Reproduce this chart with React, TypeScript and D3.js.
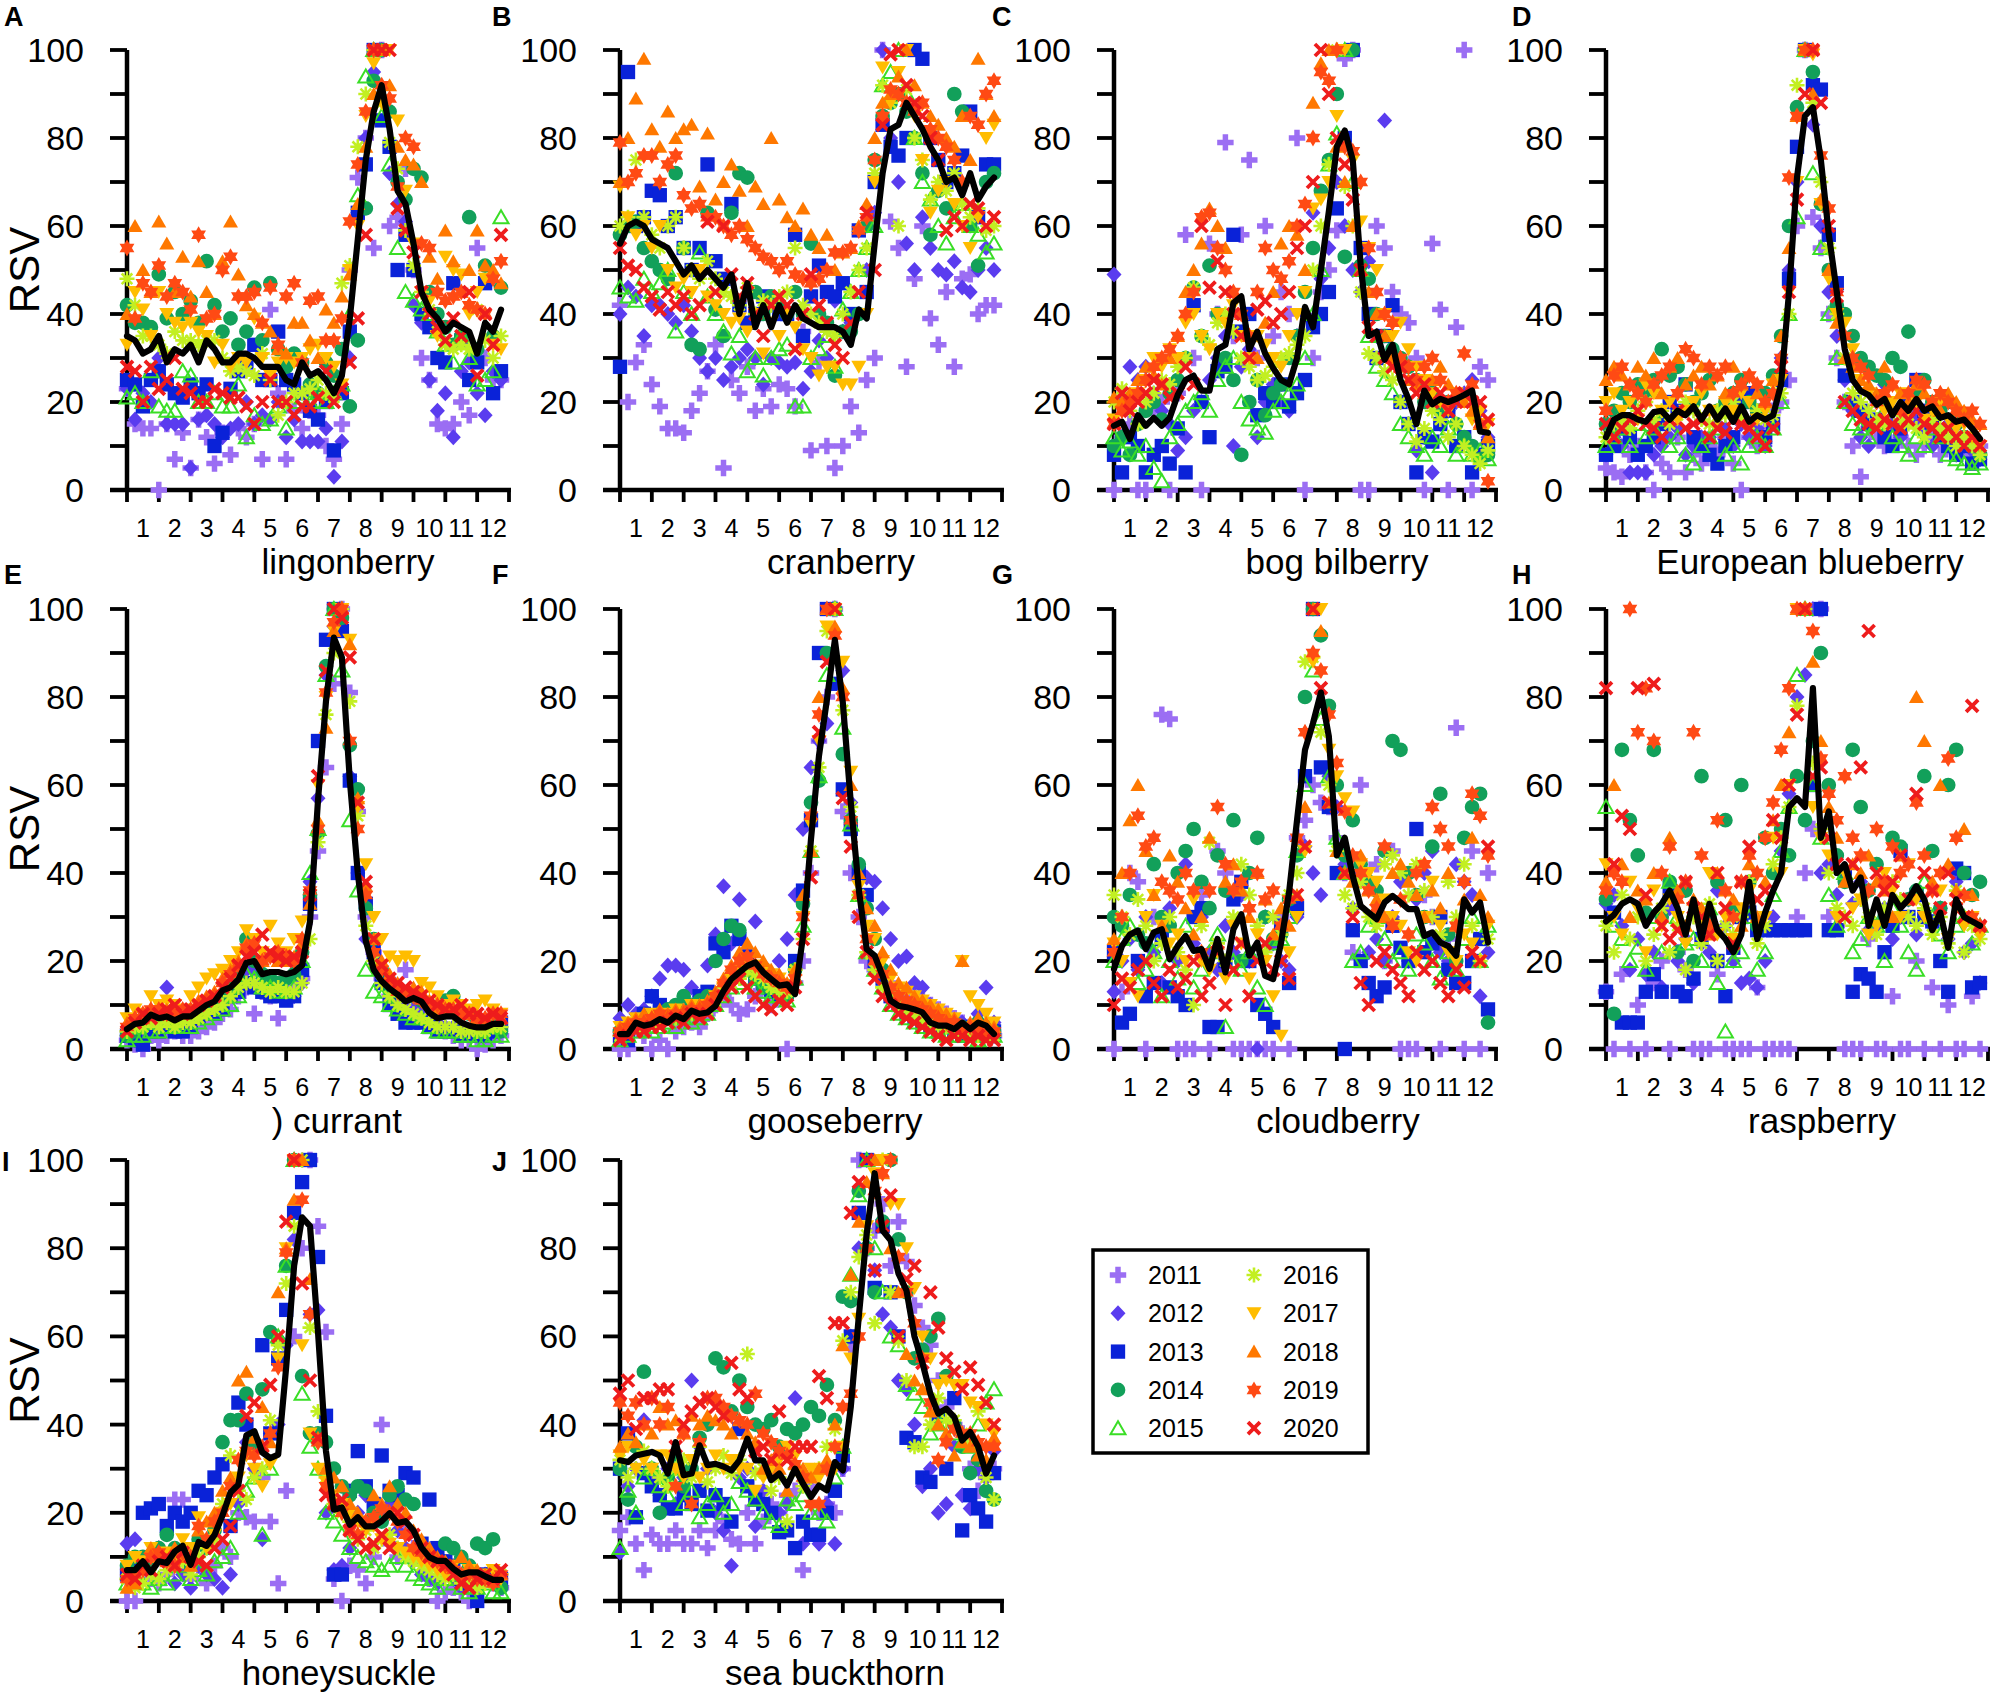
import React from "react";
import * as d3 from "d3";

const years = ["2011", "2012", "2013", "2014", "2015", "2016", "2017", "2018", "2019", "2020"];
const monthLabels = ["1", "2", "3", "4", "5", "6", "7", "8", "9", "10", "11", "12"];
const yTickValues = [0, 10, 20, 30, 40, 50, 60, 70, 80, 90, 100];
const yLabelValues = [0, 20, 40, 60, 80, 100];

// ---------- A lingonberry ----------
const lingonberryMean = [35,34,31,32,35,29,32,31,33,29,34,32,29,29,31,31,30,28,28,28,25,24,29,26,27,25,22,26,39,57,75,86,92,82,68,65,56,45,41,39,36,38,37,36,31,38,36,41];
const lingonberryYears = [
  [23,15,14,14,0,15,7,13,5,16,12,6,13,8,14,12,15,7,41,22,7,18,14,18,17,10,7,15,50,71,80,55,100,60,62,73,50,30,25,15,14,15,20,17,55,30,25,25],
  [23,16,22,20,30,15,15,15,5,16,17,15,12,14,15,20,15,17,16,20,12,16,11,11,11,14,3,11,30,63,80,95,100,72,65,61,42,38,25,18,22,12,27,29,22,17,27,25],
  [25,24,19,25,27,24,22,21,24,22,24,10,13,23,27,29,33,25,25,36,25,24,22,18,16,20,9,22,36,63,74,100,84,78,50,58,50,40,37,30,29,47,34,25,29,47,22,27],
  [42,38,38,37,49,39,45,40,43,38,52,42,36,39,33,36,46,34,47,32,28,31,29,24,22,29,26,32,19,34,64,93,100,86,70,66,73,71,45,40,37,33,35,62,32,51,35,46],
  [21,22,20,27,19,18,18,27,26,20,20,22,19,19,24,12,17,15,16,19,14,20,21,20,22,20,22,24,40,67,94,100,85,74,55,45,43,41,40,36,33,29,35,30,24,25,27,62],
  [48,42,35,35,33,31,36,34,34,33,34,34,30,27,28,27,26,31,25,17,20,22,22,23,25,22,21,47,51,78,90,100,88,79,73,59,51,45,41,36,33,32,33,32,41,34,30,35],
  [33,45,41,35,45,40,38,37,38,36,35,29,33,28,30,29,39,30,26,29,30,29,30,32,33,30,28,24,50,60,85,97,88,100,84,68,56,45,43,35,53,50,49,40,45,48,33,32],
  [40,60,50,45,61,56,45,53,44,52,45,40,52,61,49,42,40,38,36,32,31,38,38,34,30,41,38,44,49,65,78,90,100,92,78,75,74,70,53,48,59,52,45,50,59,51,50,47],
  [55,39,47,45,51,44,47,45,41,58,39,40,50,53,44,44,45,38,46,33,44,47,29,43,44,34,34,39,61,74,86,100,92,89,69,80,78,56,55,45,43,44,45,42,41,40,48,52],
  [28,27,20,28,23,25,30,23,22,20,20,23,22,21,21,19,15,20,25,20,20,17,19,19,21,27,20,23,29,39,58,100,100,100,64,59,54,45,40,37,34,39,35,45,26,40,33,58],
];

// ---------- B cranberry ----------
const cranberryMean = [56,60,61,60,57,56,55,52,49,51,48,50,48,46,49,40,47,37,42,37,42,38,42,39,38,37,37,37,36,33,41,39,56,72,82,83,88,85,82,78,75,70,71,67,72,66,69,71];
const cranberryYears = [
  [42,20,29,33,24,19,14,14,13,18,22,27,33,5,25,22,28,18,23,19,24,23,19,36,9,29,10,5,10,19,13,25,30,100,61,55,28,48,60,39,33,45,28,48,49,40,42,42],
  [40,46,44,35,42,42,40,38,42,36,30,27,30,25,28,30,32,30,24,30,29,28,29,23,27,34,30,43,36,38,40,50,63,100,80,70,56,50,62,55,50,49,52,46,45,50,55,50],
  [28,95,60,62,68,67,60,62,55,50,55,74,52,48,65,42,38,40,44,42,40,40,58,35,44,51,45,44,47,40,59,45,70,83,78,76,80,100,98,80,75,70,72,76,86,62,74,74],
  [58,60,61,55,52,50,48,72,55,33,32,63,41,35,63,72,71,45,40,44,42,40,45,40,56,40,38,26,36,36,40,60,75,85,88,90,86,80,72,58,68,64,90,86,60,51,70,72],
  [46,44,43,48,45,47,50,36,45,40,54,44,40,36,31,35,27,30,26,30,32,33,19,19,30,32,35,28,41,45,50,55,60,92,95,100,90,80,70,66,60,56,62,65,60,58,54,56],
  [60,62,75,62,58,55,60,62,55,50,48,52,48,45,44,42,46,40,43,42,44,45,55,42,40,38,36,35,40,45,50,55,72,92,88,60,91,80,75,66,70,68,72,65,62,64,59,60],
  [69,62,58,60,55,60,50,46,48,45,50,44,42,40,38,39,36,40,31,38,35,40,37,32,30,26,28,28,24,24,28,40,70,96,88,95,100,85,75,63,68,70,65,60,55,62,80,83],
  [70,80,89,98,82,78,86,80,82,83,69,81,66,70,74,68,60,69,65,80,66,62,60,64,58,55,58,50,54,55,60,65,80,88,90,94,100,92,88,85,83,80,78,85,75,98,90,85],
  [79,70,72,76,76,70,74,76,67,64,65,62,62,60,58,60,57,55,53,52,50,52,49,48,47,48,50,54,54,55,59,62,75,85,91,90,88,86,88,82,80,78,75,70,85,83,90,93],
  [55,51,50,46,44,41,45,42,44,40,42,61,45,60,49,44,47,40,35,42,44,42,32,40,49,42,38,33,30,38,45,63,50,83,99,100,92,88,85,80,75,59,62,60,65,64,60,62],
];

// ---------- C bog bilberry ----------
const bogBilberryMean = [14.6,15.5,11.6,17,14.6,16.4,14.6,16.4,21.6,25,26,22.6,22.6,32,33,42.5,44,32,36,31,27.7,25,24,30,41.6,37,50,63.4,78,81.7,75,51,35,36,29.6,33,25,20.7,15,22.6,19.5,20.7,20,20.7,21.6,22.6,13.3,13];
const bogBilberryYears = [
  [0,12,15,0,0,18,20,0,22,58,30,0,56,40,79,35,58,75,30,60,35,45,40,80,0,30,45,50,59,98,100,0,0,60,55,45,40,38,30,0,56,41,0,37,100,0,28,25],
  [49,20,28,25,28,22,18,15,9,12,18,20,25,30,35,10,28,32,12,20,24,20,18,35,40,63,48,55,70,60,50,45,52,35,84,30,20,15,9,12,4,15,18,20,22,25,18,12],
  [8,4,12,10,4,8,10,6,14,4,42,20,12,27,28,58,36,40,17,22,20,24,19,22,25,37,40,45,64,80,100,55,40,30,35,42,20,15,4,12,11,15,18,10,12,4,8,10],
  [10,12,8,15,18,20,16,22,25,30,46,35,51,40,30,25,8,20,25,17,22,24,30,35,45,55,68,75,90,53,100,51,48,40,35,32,30,28,25,20,22,18,20,15,12,10,7,8],
  [12,9,11,8,10,5,2,12,15,18,20,22,18,25,28,30,20,16,14,13,18,20,22,24,30,40,50,74,81,100,70,50,35,28,25,22,15,12,10,8,12,10,14,8,10,8,9,7],
  [20,23,18,15,20,22,25,24,28,30,46,35,33,38,40,36,30,28,25,26,28,30,31,33,35,50,60,74,100,69,60,45,31,30,27,25,20,15,11,14,18,16,12,15,10,8,6,9],
  [16,18,20,22,25,30,28,32,30,38,40,35,32,40,38,42,35,30,35,33,30,28,35,40,45,64,66,70,85,100,75,61,55,50,40,35,38,32,28,25,22,20,18,22,20,16,18,15],
  [21,20,22,25,28,26,24,30,35,45,50,56,64,60,55,45,40,35,30,38,45,56,60,58,50,88,97,100,78,70,60,50,45,40,35,30,28,25,24,22,25,28,24,22,20,18,15,12],
  [15,18,20,22,25,28,30,32,35,40,45,62,63,55,50,45,40,35,45,55,50,48,52,60,65,80,95,93,100,78,77,70,55,45,40,38,30,28,25,28,30,25,20,22,31,24,15,2],
  [15,22,18,20,22,25,24,21,22,28,24,60,46,52,45,40,35,30,41,43,38,40,45,55,60,70,100,90,80,74,66,50,37,35,30,28,28,25,22,24,20,22,18,20,22,20,20,16],
];

// ---------- D European blueberry ----------
const blueberryMean = [12,16,17,17,16,15.5,17.7,18,16,18,17,19,16,19,16,18.5,15.5,19,15.5,17,16,17,24,45,71,85,87,75,58,45,32,25,22.5,21.6,19.4,20.7,17,20,18,20.7,18,19,16.4,17,15.5,16,14,11.6];
const blueberryYears = [
  [5,4,3,8,10,4,0,6,4,12,4,8,6,10,8,12,6,0,12,10,14,18,20,25,60,100,62,55,40,30,20,10,3,14,12,10,15,12,10,8,10,12,8,10,12,9,8,10],
  [8,12,10,4,4,4,8,10,12,14,8,10,12,12,15,14,10,15,12,14,10,15,30,50,70,100,83,60,45,35,25,18,12,10,20,24,15,12,18,16,14,10,12,15,8,10,9,7],
  [8,10,14,12,8,10,12,15,20,18,24,12,10,8,6,10,12,20,22,18,12,15,25,48,78,100,92,91,58,47,26,20,18,15,16,12,10,14,20,25,18,15,12,10,8,10,6,7],
  [15,18,22,20,24,22,25,32,26,28,24,20,22,25,18,20,22,25,20,18,22,26,35,60,87,100,95,65,50,42,40,35,30,28,26,25,30,28,36,22,25,20,18,20,15,12,10,8],
  [10,12,14,10,15,12,14,16,10,12,8,6,10,12,14,8,10,6,10,12,10,14,20,40,62,100,72,55,40,30,20,15,14,12,15,18,12,10,8,12,10,14,12,8,7,6,5,6],
  [12,15,16,14,18,20,16,18,15,17,20,18,16,15,18,17,20,16,15,18,16,17,22,40,92,100,88,70,55,40,30,22,20,18,16,15,18,16,15,14,12,16,14,12,10,12,10,8],
  [20,22,18,20,16,24,22,18,20,16,18,20,22,18,16,20,18,22,20,16,18,24,25,45,70,100,99,65,48,40,38,32,25,22,20,18,20,22,18,20,16,18,20,16,14,15,12,10],
  [25,28,26,24,28,26,30,22,28,30,24,26,28,24,26,22,28,24,26,22,20,25,35,55,85,100,90,66,50,38,30,28,25,24,22,28,24,22,20,24,22,20,18,22,20,18,16,15],
  [18,26,28,24,22,20,24,26,28,22,32,30,24,28,26,28,22,24,26,24,20,22,30,71,85,100,100,76,64,45,35,30,28,26,20,22,24,18,22,25,24,20,22,20,18,16,18,15],
  [15,12,14,16,18,15,14,12,16,18,14,15,16,12,14,13,16,15,14,12,10,14,28,45,66,90,100,88,60,44,20,18,16,15,14,16,15,14,16,18,15,14,12,14,12,10,12,10],
];

// ---------- E currant ----------
const currantMean = [4.5,5.7,6,7.8,7,7.4,6.5,7.4,7.4,8.7,10,10.8,13.3,14,15.8,19.6,20,17,17.5,17.5,17,17.5,19,29,56.5,79,93.5,89,61,40,24.6,18,15.4,13.7,12.4,10.8,11.6,10.8,8.2,7,7.4,7.4,6,5.3,4.9,4.9,5.7,5.7];
const currantYears = [
  [2,1,0,3,2,3,4,3,3,4,5,6,8,9,12,14,8,13,12,7,15,14,16,30,45,64,83,100,81,54,30,22,16,12,11,18,12,10,6,5,4,3,2,2,0,1,2,3],
  [3,2,4,5,6,14,8,6,7,9,10,10,12,14,16,18,18,16,14,13,12,12,15,38,57,85,96,100,62,40,25,19,17,16,14,11,9,8,7,6,5,5,4,4,3,3,4,5],
  [3,2,1,4,4,5,4,4,5,7,8,8,9,12,13,15,14,13,12,12,11,12,18,33,70,93,100,95,61,40,33,22,15,10,8,6,6,6,5,4,4,4,3,3,3,3,4,6],
  [3,4,5,6,6,7,6,7,7,8,9,10,12,14,16,25,20,17,16,15,16,17,22,35,49,87,100,98,69,59,32,25,18,14,13,12,12,11,10,9,11,12,9,8,6,5,5,4],
  [2,3,3,4,4,5,5,5,5,6,7,8,9,10,12,17,16,14,14,13,13,14,20,40,50,85,100,86,52,36,18,13,12,10,9,8,7,7,5,4,4,4,3,3,2,2,3,3],
  [4,5,5,6,5,6,5,6,6,7,8,9,10,12,14,15,15,14,13,14,13,13,15,25,47,76,90,100,79,53,28,20,15,12,10,9,8,7,6,5,5,5,4,4,4,4,5,5],
  [7,9,8,12,10,11,10,9,12,14,16,17,18,20,22,27,25,22,28,24,22,25,29,35,60,80,95,100,93,55,42,30,25,21,20,21,20,15,14,12,10,11,10,9,10,11,9,8],
  [6,7,7,8,8,9,8,8,9,11,12,13,16,18,20,24,24,20,21,20,20,21,24,33,52,73,95,100,92,57,37,25,20,17,15,13,14,13,11,9,9,9,8,8,7,7,8,7],
  [5,7,8,9,9,8,8,9,9,10,11,12,15,17,19,23,24,20,21,22,21,20,25,36,50,81,97,100,70,50,35,22,18,15,13,12,12,11,10,10,9,9,8,8,7,7,8,8],
  [4,6,8,7,8,9,10,8,9,10,11,12,14,16,19,21,22,26,22,21,20,21,22,35,62,86,100,98,89,56,38,25,19,16,15,14,13,12,11,10,9,9,10,8,8,7,8,7],
];

// ---------- F gooseberry ----------
const gooseberryMean = [3.4,3.4,6,5.3,5.7,6.8,6,7.6,6.8,8.7,8,8.3,9.8,13.2,15.9,17.4,18.9,19.7,17.4,15.9,14.4,14.7,12.5,25.7,47.7,66.6,79.4,93,78.7,56,36.3,22.7,21.2,16.6,11,9.8,9.5,9,8.3,6,5.3,5.3,4.5,6,4.5,6,5.3,3.4];
const gooseberryYears = [
  [0,0,5,3,0,2,0,4,5,6,5,8,10,12,10,8,9,12,14,10,12,0,15,20,40,70,80,100,54,40,30,20,18,16,15,12,10,12,11,10,9,8,7,6,5,5,4,3],
  [7,10,8,9,12,16,19,19,18,14,12,19,26,37,24,34,22,29,19,14,20,25,35,50,64,70,74,100,86,56,40,39,38,32,25,20,21,15,14,10,8,7,5,6,5,8,14,6],
  [3,2,5,8,12,10,8,9,8,10,12,13,24,22,28,25,21,16,15,13,12,14,20,36,52,90,100,83,59,50,40,35,20,16,12,10,8,7,6,5,4,5,4,3,5,4,3,4],
  [4,5,6,7,6,8,9,10,12,10,11,12,20,25,28,27,18,16,14,15,13,12,18,33,56,61,90,100,67,52,42,32,25,18,12,10,9,8,7,6,6,5,6,5,4,6,5,4],
  [2,3,4,5,4,5,6,5,7,6,7,8,10,12,14,15,16,14,13,12,12,11,16,28,45,62,85,100,73,51,35,22,18,14,10,8,7,6,5,4,4,3,3,4,3,2,3,3],
  [3,4,5,5,6,6,7,7,8,8,9,9,11,14,15,16,18,17,16,14,13,13,18,25,45,64,95,100,77,55,35,22,18,14,12,10,9,8,7,6,5,5,4,4,4,3,3,3],
  [5,6,7,6,8,7,8,9,8,10,9,10,12,14,16,18,20,19,18,17,16,14,17,30,51,70,96,100,88,63,37,28,25,20,16,14,13,12,11,10,9,8,7,20,12,10,8,6],
  [5,6,7,8,7,9,8,9,9,10,10,11,13,16,19,22,24,22,20,18,17,15,18,35,45,80,100,96,82,60,40,32,28,22,18,15,14,12,11,10,9,8,7,20,6,7,6,5],
  [4,5,6,6,7,8,7,8,8,9,9,10,12,15,18,20,21,19,17,16,15,14,16,30,53,76,100,94,80,52,35,25,20,17,14,12,11,10,9,8,7,6,6,5,5,4,4,4],
  [2,3,4,4,5,5,6,7,6,8,7,8,10,12,14,16,14,12,10,9,11,10,14,25,39,72,88,100,57,46,30,22,16,12,10,8,7,6,5,4,3,2,3,3,2,3,2,2],
];

// ---------- G cloudberry ----------
const cloudberryMean = [18.2,23.4,26,26.9,22.7,26.5,27.2,20.4,23.4,25.7,22.3,22.7,18.2,25,17.4,27.2,30.6,21.2,24.2,16.6,15.9,24.2,35.6,52,68,74,81,71,44,48,39.3,32.5,31,29.5,33.3,34.8,33.3,31.8,31.8,25.7,26.5,24.2,23.4,21.2,34,31,33.3,24.2];
const cloudberryYears = [
  [0,13,40,38,0,30,76,75,0,0,0,35,0,45,40,0,0,0,0,0,0,30,0,48,52,60,56,55,48,40,22,60,38,42,20,45,0,0,0,35,30,0,25,73,0,45,0,40],
  [13,20,25,18,30,22,15,32,20,42,24,30,22,18,28,22,35,20,0,30,24,20,18,30,46,40,35,62,55,42,32,40,22,25,20,30,38,20,34,40,45,22,20,42,38,35,12,22],
  [22,6,8,20,12,15,25,14,12,10,30,32,5,5,20,34,38,20,10,8,5,28,15,32,62,100,64,55,40,0,27,20,15,12,14,28,23,20,50,22,24,30,18,15,15,20,25,9],
  [30,28,35,26,24,42,30,28,40,45,50,38,32,44,36,52,20,40,48,30,25,26,34,44,80,100,94,78,60,44,52,42,38,36,45,70,68,40,35,30,46,58,26,20,48,55,58,6],
  [20,25,28,15,18,22,12,20,16,28,14,18,22,26,5,20,18,22,14,10,24,25,30,45,60,86,75,62,48,40,20,22,28,30,25,20,22,18,26,24,20,16,22,18,25,30,20,28],
  [35,30,26,34,28,20,24,30,22,18,10,28,47,24,20,30,42,35,28,22,30,26,35,40,88,89,72,60,45,35,32,38,30,28,42,44,40,35,42,36,30,26,38,30,42,28,20,25],
  [24,20,15,12,30,35,28,24,26,20,34,20,18,22,16,28,24,16,26,20,12,3,22,30,45,88,100,68,62,57,54,42,40,38,34,30,28,22,20,30,38,28,22,20,26,24,20,28],
  [25,40,52,60,45,35,28,44,38,32,26,30,48,24,38,42,36,30,40,34,26,32,28,35,55,100,95,56,45,40,38,44,36,34,30,40,42,38,35,30,36,32,40,28,34,48,35,30],
  [22,30,40,53,46,48,38,36,34,40,36,22,36,55,42,36,38,32,40,34,36,28,34,48,72,90,86,76,65,54,44,40,36,32,46,28,34,26,40,42,55,50,46,28,38,58,53,44],
  [10,16,14,18,20,15,12,18,14,16,20,12,15,22,10,18,24,12,20,24,18,20,16,35,46,100,82,56,55,40,30,15,10,20,22,18,15,12,22,18,20,15,12,18,14,22,20,46],
];

// ---------- H raspberry ----------
const raspberryMean = [29,30.5,33,34,33,28,31,33,36,32,26,34,25,33,27,25,22,26,38,25,31,36,40,55,57,55,82,48,54,40,42,36,39,28,34,28,35,32,34,37,34,27,31,23,34,30,29,28];
const raspberryYears = [
  [13,0,17,0,10,0,15,20,0,22,18,0,0,0,17,0,0,0,0,14,0,0,0,0,30,40,50,100,30,28,0,0,0,25,0,0,12,0,0,20,0,14,0,10,0,0,12,0],
  [33,35,28,18,25,17,22,14,32,20,25,15,24,22,36,28,20,15,16,14,20,30,45,58,80,85,100,40,42,35,40,33,38,27,28,32,25,30,34,26,30,28,32,25,38,22,24,15],
  [13,31,6,6,6,13,17,13,36,13,12,16,25,27,20,12,23,30,31,27,27,27,27,27,27,27,60,100,27,27,40,13,17,16,13,22,28,45,30,35,30,29,20,13,41,40,14,15],
  [34,8,68,52,44,31,68,30,38,22,36,20,62,30,38,52,32,60,38,28,48,40,50,44,62,52,70,90,60,44,38,68,55,36,42,30,48,46,34,36,62,45,32,60,68,40,35,38],
  [55,28,25,20,23,18,30,22,38,30,24,25,20,32,15,4,20,22,30,18,22,35,45,55,85,100,60,48,35,28,40,22,25,30,28,20,32,28,22,18,38,30,26,22,28,30,24,28],
  [28,22,35,25,30,20,26,32,22,28,18,30,24,33,20,28,26,30,38,24,28,42,48,55,78,100,65,50,40,32,30,28,34,30,26,32,38,34,30,28,32,26,30,24,36,22,28,25],
  [42,30,26,38,32,22,36,28,34,30,24,32,28,40,26,30,25,32,36,28,30,48,40,60,100,100,55,48,44,30,40,32,34,26,28,40,36,30,42,34,30,28,36,25,32,28,30,26],
  [38,60,42,30,36,34,40,30,48,36,28,34,32,26,40,36,34,28,42,30,38,52,60,72,100,100,88,70,55,48,38,42,40,44,38,36,30,44,34,80,70,38,60,42,36,50,35,28],
  [36,40,38,100,72,82,70,40,46,34,38,72,44,28,52,36,30,38,44,40,48,56,68,82,100,100,95,66,58,52,62,48,44,36,50,38,46,40,42,56,44,36,40,66,48,35,30,28],
  [82,42,53,50,82,35,83,28,25,27,38,32,30,26,40,32,24,38,46,34,36,52,48,60,76,100,62,64,48,42,30,42,64,95,40,36,38,44,34,58,40,36,32,40,34,30,78,28],
];

// ---------- I honeysuckle ----------
const honeysuckleMean = [7,7,9,6.5,9,8.6,11.2,12.5,8.2,13.4,12.5,15,19.4,24.6,26.4,37.6,38.5,33.7,32.4,33.2,53,76,87,85,61,34,20.7,21.2,17.3,19,16.9,16.9,18.1,19.9,17.7,18.1,16,12.1,9.9,9.1,9.1,7.3,6,6.5,6.5,5.6,4.8,4.8];
const honeysuckleYears = [
  [0,0,8,5,4,6,23,23,5,8,4,8,12,10,20,19,18,28,18,4,25,60,80,100,85,61,5,0,8,7,4,10,40,13,10,16,12,10,5,0,2,3,2,0,3,5,4,3],
  [13,14,8,10,12,9,4,6,3,8,6,5,3,6,22,36,30,14,38,40,58,82,100,65,66,20,7,8,12,20,24,18,20,22,16,12,9,6,5,4,6,5,3,4,5,6,4,5],
  [6,8,20,21,22,17,20,18,20,25,24,28,31,17,45,40,35,58,38,55,66,88,95,100,78,42,6,6,25,34,26,22,33,25,24,29,28,13,23,12,9,8,5,4,0,6,6,5],
  [8,10,10,9,12,15,12,10,8,14,12,16,36,41,41,47,36,48,61,59,76,100,51,38,38,36,30,26,24,26,25,20,18,24,26,23,22,12,10,9,13,12,10,8,13,12,14,3],
  [4,5,4,3,5,4,6,8,5,7,6,9,10,12,20,25,28,15,30,60,76,100,47,35,30,20,18,15,12,10,9,8,7,8,10,8,6,5,4,3,5,4,3,2,3,4,2,2],
  [5,3,4,6,5,7,8,9,6,10,12,14,22,33,25,23,28,30,41,58,72,85,100,62,43,28,22,20,18,14,16,12,14,15,12,10,9,8,7,6,5,6,4,5,3,4,5,6],
  [8,10,9,12,10,11,10,14,12,19,12,15,20,22,28,33,30,26,31,55,80,100,58,38,30,27,24,22,20,18,16,17,14,13,12,11,10,9,8,7,6,8,6,7,5,6,7,5],
  [3,4,8,12,10,9,12,10,8,16,18,20,25,28,50,52,37,44,36,70,80,91,100,73,37,30,28,26,22,20,18,24,22,26,22,20,16,14,12,10,9,8,10,8,7,6,5,6],
  [5,6,7,10,11,9,8,11,10,17,14,18,20,26,32,34,33,35,38,53,79,100,91,65,36,26,22,20,16,15,18,19,21,20,18,15,12,11,10,9,8,7,6,6,5,5,4,6],
  [6,5,8,7,9,10,8,11,10,9,8,12,14,17,25,42,45,35,49,60,86,100,72,50,37,24,22,23,16,14,12,13,15,12,20,18,15,12,10,9,8,6,4,3,5,6,5,7],
];

// ---------- J sea buckthorn ----------
const seaBuckthornMean = [31.9,31.5,33,33.4,33.8,33,28.9,36,28.5,28.9,35.3,30.8,31.1,30.5,29.6,31.9,36.8,31.9,31.9,27.4,28.9,26.2,30,26.6,23.6,26.2,25.1,31.5,29.6,44,64.4,83.3,97,84,81.8,74.2,70.4,60,54,47,42.5,43.6,41.7,36.4,38.3,35,28.9,33];
const seaBuckthornYears = [
  [16,19,13,7,15,13,13,16,13,13,16,12,16,18,14,13,20,13,18,22,20,24,25,7,26,20,22,20,30,58,100,80,84,90,76,86,77,67,62,58,50,44,40,38,30,25,28,30],
  [11,26,30,41,28,24,30,22,28,50,35,30,20,16,8,28,30,17,25,30,20,22,46,13,28,13,22,13,30,60,80,100,75,65,62,50,48,40,26,30,20,22,35,24,21,30,28,34],
  [30,38,19,29,26,24,21,21,24,22,25,20.5,24,22,18,39,26,23,22,20,15.6,16,12,18,15,15,20,25,33,60,88,100,71,85,70,60,37,36,28,27,42,30,46,16,24,21,18,29],
  [30,23,35,52,30,20,28,32,26,30,37,40,55,53,43,50,44,40,39,41,35,39,38,40,44,42,49,41,69,68,93,80,70,86,100,82,70,55,57,60,64,51,40,35,29,32,25,23],
  [12,25,20,28,30,26,24,28,22,25,19,22,24,20,22,27,25,23,20,18,17,23,22,24,20,20,18,28,35,74,92,100,80,70,60,58,49,47,44,38,40,42,38,36,35,40,45,48],
  [32,28,30,34,30,28,26,30,32,28,35,27,30,33,29,32,56,29,30,25,28,18,30,26,28,30,35,39,59,70,78,83,63,100,70,59,50,35,35,40,46,41,41,38,36,43,28,23],
  [33,35,30,32,30,33,33,30,28,32,28,30,33,30,32,30,30,25,28,30,32,35,33,27,30,28,30,30,35,55,64,85,97,100,90,90,80,71,60,55,49,50,49,49,45,44,40,38],
  [35,38,36,40,38,44,40,41,38,42,40,42,41,40,38,41,38,36,30,32,30,25,31,30,28,30,32,40,58,74,86,95,100,97,80,70,56,50,48,43,40,38,33,36,35,33,32,37],
  [45,42,45,40,46,40,44,26,38,22,36,46,46,44,42,41,40,47,38,36,34,33,31,28,22,22,30,35,44,47,60,80,93,97,100,78,70,63,55,45,32,36,39,38,38,36,35,35],
  [47,50,39,46,46,48,48,35,40,43,45,46,44,42,54,48,46,34,35,32,43,32,35,35,35,51,46,63,63,88,95,100,75,85,92,60,73,76,54,70,62,55,52,48,53,49,45,40],
];

// ---------- layout / style ----------
const FONT = "'Liberation Sans', Arial, Helvetica, sans-serif";
const COL_X = [127, 620, 1114, 1606];
const ROW_TOP = [50, 609, 1160];
const ROW_BOT = [490, 1049, 1601];
const PLOT_W = 382;

type MarkerStyle = { d: string; fill: string; stroke: string; sw: number };

const markerStyles: MarkerStyle[] = [
  { d: d3.symbol(d3.symbolCross, 150)() as string, fill: "#9b6ef3", stroke: "none", sw: 0 },
  { d: "M0,-8L7.5,0L0,8L-7.5,0Z", fill: "#5a3cef", stroke: "none", sw: 0 },
  { d: d3.symbol(d3.symbolSquare, 205)() as string, fill: "#0a22d8", stroke: "none", sw: 0 },
  { d: d3.symbol(d3.symbolCircle, 170)() as string, fill: "#12a05a", stroke: "none", sw: 0 },
  { d: "M0,-7L7.5,6L-7.5,6Z", fill: "none", stroke: "#3ade26", sw: 2 },
  { d: "M-7.5,0H7.5M0,-7.5V7.5M-5.3,-5.3L5.3,5.3M-5.3,5.3L5.3,-5.3", fill: "none", stroke: "#c2ef22", sw: 2.6 },
  { d: "M-7.5,-6L7.5,-6L0,7Z", fill: "#ffbd00", stroke: "none", sw: 0 },
  { d: "M0,-7L7.5,6L-7.5,6Z", fill: "#ff7800", stroke: "none", sw: 0 },
  { d: "M0,-8.5L7.4,4.25L-7.4,4.25ZM0,8.5L-7.4,-4.25L7.4,-4.25Z", fill: "#ff4a14", stroke: "none", sw: 0 },
  { d: "M-6,-6L6,6M-6,6L6,-6", fill: "none", stroke: "#ee1c1c", sw: 3.8 },
];

type PanelDef = {
  letter: string;
  name: string;
  mean: number[];
  series: number[][];
  col: number;
  row: number;
  labelX: number;
  anchor?: "middle" | "end";
  clipLeft?: number;
  rsv?: boolean;
};

const panels: PanelDef[] = [
  { letter: "A", name: "lingonberry", mean: lingonberryMean, series: lingonberryYears, col: 0, row: 0, labelX: 348, rsv: true },
  { letter: "B", name: "cranberry", mean: cranberryMean, series: cranberryYears, col: 1, row: 0, labelX: 841 },
  { letter: "C", name: "bog bilberry", mean: bogBilberryMean, series: bogBilberryYears, col: 2, row: 0, labelX: 1337 },
  { letter: "D", name: "European blueberry", mean: blueberryMean, series: blueberryYears, col: 3, row: 0, labelX: 1810 },
  { letter: "E", name: "(black) currant", mean: currantMean, series: currantYears, col: 0, row: 1, labelX: 402, anchor: "end", clipLeft: 272, rsv: true },
  { letter: "F", name: "gooseberry", mean: gooseberryMean, series: gooseberryYears, col: 1, row: 1, labelX: 835 },
  { letter: "G", name: "cloudberry", mean: cloudberryMean, series: cloudberryYears, col: 2, row: 1, labelX: 1338 },
  { letter: "H", name: "raspberry", mean: raspberryMean, series: raspberryYears, col: 3, row: 1, labelX: 1822 },
  { letter: "I", name: "honeysuckle", mean: honeysuckleMean, series: honeysuckleYears, col: 0, row: 2, labelX: 339, rsv: true },
  { letter: "J", name: "sea buckthorn", mean: seaBuckthornMean, series: seaBuckthornYears, col: 1, row: 2, labelX: 835 },
];

const LETTER_X = [4, 492, 992, 1512];
const LETTER_Y = [26, 584, 1171];

function Panel({ p }: { p: PanelDef }) {
  const x0 = COL_X[p.col];
  const yTop = ROW_TOP[p.row];
  const yBot = ROW_BOT[p.row];
  const xs = d3.scaleLinear().domain([0, 12]).range([x0, x0 + PLOT_W]);
  const ys = d3.scaleLinear().domain([0, 100]).range([yBot, yTop]);
  const line = d3
    .line<number>()
    .x((_, i) => xs(i / 4))
    .y((d) => ys(d));
  const clipId = `clip-${p.letter}`;
  const letterX = p.letter === "I" ? 2 : LETTER_X[p.col];
  return (
    <g>
      {/* axes */}
      <line x1={x0} x2={x0} y1={yTop} y2={yBot} stroke="#000" strokeWidth={4.5} />
      <line x1={x0 - 17} x2={x0 + PLOT_W + 2} y1={yBot} y2={yBot} stroke="#000" strokeWidth={4.5} />
      {yTickValues.map((v) => (
        <line key={`yt${v}`} x1={x0 - 17} x2={x0} y1={ys(v)} y2={ys(v)} stroke="#000" strokeWidth={3.8} />
      ))}
      {d3.range(13).map((m) => (
        <line key={`xt${m}`} x1={xs(m)} x2={xs(m)} y1={yBot} y2={yBot + 12} stroke="#000" strokeWidth={3.8} />
      ))}
      {yLabelValues.map((v) => (
        <text key={`yl${v}`} x={x0 - 43} y={ys(v) + 12} fontSize={34} textAnchor="end" fontFamily={FONT} fill="#000">
          {v}
        </text>
      ))}
      {monthLabels.map((m, i) => (
        <text key={`ml${m}`} x={xs(i + 0.5)} y={yBot + 47} fontSize={25} textAnchor="middle" fontFamily={FONT} fill="#000">
          {m}
        </text>
      ))}
      {/* scatter */}
      {p.series.map((vals, k) => {
        const s = markerStyles[k];
        return (
          <g key={`s${k}`}>
            {vals.map((v, i) => (
              <path
                key={i}
                d={s.d}
                transform={`translate(${xs(i / 4).toFixed(1)},${ys(v).toFixed(1)})`}
                fill={s.fill}
                stroke={s.stroke}
                strokeWidth={s.sw}
              />
            ))}
          </g>
        );
      })}
      {/* mean */}
      <path d={line(p.mean) || ""} fill="none" stroke="#000" strokeWidth={6.2} strokeLinejoin="round" strokeLinecap="round" />
      {/* labels */}
      {p.clipLeft !== undefined && (
        <clipPath id={clipId}>
          <rect x={p.clipLeft} y={yBot + 40} width={400} height={70} />
        </clipPath>
      )}
      <text
        x={p.labelX}
        y={yBot + 84}
        fontSize={35}
        textAnchor={p.anchor || "middle"}
        fontFamily={FONT}
        fill="#000"
        clipPath={p.clipLeft !== undefined ? `url(#${clipId})` : undefined}
      >
        {p.name}
      </text>
      <text x={letterX} y={LETTER_Y[p.row]} fontSize={27} fontWeight="bold" fontFamily={FONT} fill="#000">
        {p.letter}
      </text>
      {p.rsv && (
        <text
          transform={`translate(39,${(yTop + yBot) / 2}) rotate(-90)`}
          fontSize={42}
          textAnchor="middle"
          fontFamily={FONT}
          fill="#000"
        >
          RSV
        </text>
      )}
    </g>
  );
}

function Legend() {
  const bx = 1093;
  const by = 1250;
  const rowGap = 38.3;
  return (
    <g>
      <rect x={bx} y={by} width={275} height={203} fill="#fff" stroke="#000" strokeWidth={3.5} />
      {years.map((yr, k) => {
        const col = k < 5 ? 0 : 1;
        const r = k % 5;
        const sx = col === 0 ? 1118 : 1254;
        const tx = col === 0 ? 1148 : 1283;
        const cy = 1275 + r * rowGap;
        const s = markerStyles[k];
        return (
          <g key={yr}>
            <path d={s.d} transform={`translate(${sx},${cy})`} fill={s.fill} stroke={s.stroke} strokeWidth={s.sw} />
            <text x={tx} y={cy + 9} fontSize={25} fontFamily={FONT} fill="#000">
              {yr}
            </text>
          </g>
        );
      })}
    </g>
  );
}

export default function App() {
  return (
    <svg
      width={1997}
      height={1697}
      viewBox="0 0 1997 1697"
      style={{ position: "absolute", left: 0, top: 0, background: "#fff" }}
    >
      <rect x={0} y={0} width={1997} height={1697} fill="#fff" />
      {panels.map((p) => (
        <Panel key={p.letter} p={p} />
      ))}
      <Legend />
    </svg>
  );
}
